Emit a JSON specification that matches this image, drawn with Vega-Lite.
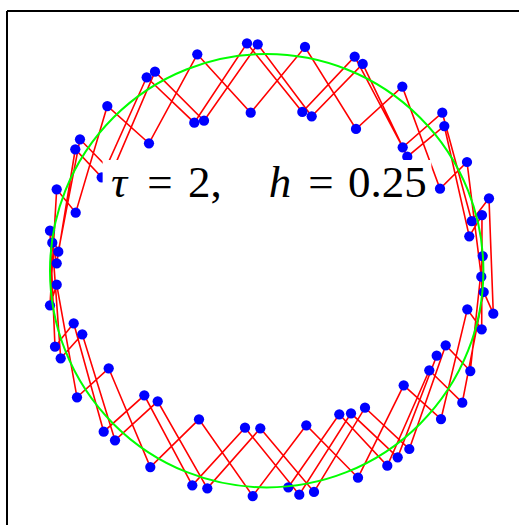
{
  "$schema": "https://vega.github.io/schema/vega-lite/v6.json",
  "width": 512,
  "height": 514,
  "padding": {"left": 7, "top": 11, "right": 0, "bottom": 0},
  "autosize": {"type": "none"},
  "background": "white",
  "config": {"view": {"stroke": null}},
  "datasets": {
    "traj": [
      {"i": 0, "x": 0.7845, "y": -0.3923},
      {"i": 1, "x": 0.6045, "y": -0.8611},
      {"i": 2, "x": 0.3890, "y": -0.6581},
      {"i": 3, "x": 0.1504, "y": -1.0337},
      {"i": 4, "x": -0.1001, "y": -0.7245},
      {"i": 5, "x": -0.3433, "y": -0.9903},
      {"i": 6, "x": -0.5648, "y": -0.5750},
      {"i": 7, "x": -0.7522, "y": -0.7430},
      {"i": 8, "x": -0.8906, "y": -0.2427},
      {"i": 9, "x": -0.9769, "y": -0.3507},
      {"i": 10, "x": -1.0000, "y": 0.1846},
      {"i": 11, "x": -0.9617, "y": 0.0877},
      {"i": 12, "x": -0.8616, "y": 0.6064},
      {"i": 13, "x": -0.7139, "y": 0.4555},
      {"i": 14, "x": -0.5155, "y": 0.9183},
      {"i": 15, "x": -0.2893, "y": 0.6922},
      {"i": 16, "x": -0.0415, "y": 1.0448},
      {"i": 17, "x": 0.2077, "y": 0.7125},
      {"i": 18, "x": 0.4430, "y": 0.9539},
      {"i": 19, "x": 0.6488, "y": 0.5261},
      {"i": 20, "x": 0.8196, "y": 0.6677},
      {"i": 21, "x": 0.9349, "y": 0.1587},
      {"i": 22, "x": 0.9935, "y": 0.2570},
      {"i": 23, "x": 0.9922, "y": -0.2704},
      {"i": 24, "x": 0.9257, "y": -0.1781},
      {"i": 25, "x": 0.8043, "y": -0.6844},
      {"i": 26, "x": 0.6322, "y": -0.5288},
      {"i": 27, "x": 0.4213, "y": -0.9552},
      {"i": 28, "x": 0.1827, "y": -0.7134},
      {"i": 29, "x": -0.0646, "y": -1.0397},
      {"i": 30, "x": -0.3124, "y": -0.6858},
      {"i": 31, "x": -0.5371, "y": -0.9059},
      {"i": 32, "x": -0.7291, "y": -0.4504},
      {"i": 33, "x": -0.8754, "y": -0.5842},
      {"i": 34, "x": -0.9691, "y": -0.0646},
      {"i": 35, "x": -1.0000, "y": -0.1597},
      {"i": 36, "x": -0.9691, "y": 0.3756},
      {"i": 37, "x": -0.8814, "y": 0.2677},
      {"i": 38, "x": -0.7356, "y": 0.7600},
      {"i": 39, "x": -0.5432, "y": 0.5879},
      {"i": 40, "x": -0.3203, "y": 0.9986},
      {"i": 41, "x": -0.0738, "y": 0.7291},
      {"i": 42, "x": 0.1767, "y": 1.0323},
      {"i": 43, "x": 0.4121, "y": 0.6539},
      {"i": 44, "x": 0.6258, "y": 0.8491},
      {"i": 45, "x": 0.7997, "y": 0.3784},
      {"i": 46, "x": 0.9243, "y": 0.5016},
      {"i": 47, "x": 0.9903, "y": -0.0277},
      {"i": 48, "x": 0.9968, "y": 0.0678},
      {"i": 49, "x": 0.9395, "y": -0.4629},
      {"i": 50, "x": 0.8260, "y": -0.3443},
      {"i": 51, "x": 0.6581, "y": -0.8228},
      {"i": 52, "x": 0.4536, "y": -0.6322},
      {"i": 53, "x": 0.2183, "y": -1.0212},
      {"i": 54, "x": -0.0295, "y": -0.7273},
      {"i": 55, "x": -0.2741, "y": -1.0042},
      {"i": 56, "x": -0.5030, "y": -0.6027},
      {"i": 57, "x": -0.7000, "y": -0.7827},
      {"i": 58, "x": -0.8510, "y": -0.2935},
      {"i": 59, "x": -0.9506, "y": -0.4042},
      {"i": 60, "x": -0.9894, "y": 0.1292},
      {"i": 61, "x": -0.9691, "y": 0.0341},
      {"i": 62, "x": -0.8833, "y": 0.5602},
      {"i": 63, "x": -0.7614, "y": 0.4310},
      {"i": 64, "x": -0.5538, "y": 0.8925},
      {"i": 65, "x": -0.3341, "y": 0.6830},
      {"i": 66, "x": -0.0909, "y": 1.0494},
      {"i": 67, "x": 0.1643, "y": 0.7324},
      {"i": 68, "x": 0.4061, "y": 0.9875},
      {"i": 69, "x": 0.6276, "y": 0.5695},
      {"i": 70, "x": 0.8103, "y": 0.7291},
      {"i": 71, "x": 0.9460, "y": 0.2293},
      {"i": 72, "x": 1.0258, "y": 0.3341},
      {"i": 73, "x": 1.0457, "y": -0.1984},
      {"i": 74, "x": 1.0014, "y": -0.0983},
      {"i": 75, "x": 0.9026, "y": -0.6091},
      {"i": 76, "x": 0.7503, "y": -0.4596},
      {"i": 77, "x": 0.5565, "y": -0.8999},
      {"i": 78, "x": 0.3350, "y": -0.6627},
      {"i": 79, "x": 0.0997, "y": -0.9995}
    ]
  },
  "layer": [
    {
      "data": {"values": [{}]},
      "mark": {"type": "rule", "color": "#000000", "strokeWidth": 2},
      "encoding": {
        "x": {"datum": -1.1984, "type": "quantitative", "scale": {"domain": [-1.1984, 1.1643], "nice": false, "zero": false}, "axis": null, "title": null}
      }
    },
    {
      "data": {"values": [{}]},
      "mark": {"type": "rule", "color": "#000000", "strokeWidth": 2},
      "encoding": {
        "y": {"datum": 1.1984, "type": "quantitative", "scale": {"domain": [-1.1735, 1.1984], "nice": false, "zero": false}, "axis": null, "title": null}
      }
    },
    {
      "data": {"name": "traj"},
      "mark": {"type": "line", "color": "#ff0000", "strokeWidth": 1.6},
      "encoding": {
        "x": {"field": "x", "type": "quantitative", "scale": {"domain": [-1.1984, 1.1643], "nice": false, "zero": false}, "axis": null, "title": null},
        "y": {"field": "y", "type": "quantitative", "scale": {"domain": [-1.1735, 1.1984], "nice": false, "zero": false}, "axis": null, "title": null},
        "order": {"field": "i", "type": "quantitative"}
      }
    },
    {
      "data": {"name": "traj"},
      "mark": {"type": "point", "shape": "circle", "filled": true, "size": 105, "color": "#0000ff", "opacity": 1},
      "encoding": {
        "x": {"field": "x", "type": "quantitative", "axis": null, "title": null},
        "y": {"field": "y", "type": "quantitative", "axis": null, "title": null}
      }
    },
    {
      "data": {"values": [{}]},
      "mark": {"type": "point", "shape": "circle", "filled": false, "size": 187836, "stroke": "#00ff00", "strokeWidth": 2, "opacity": 1},
      "encoding": {
        "x": {"datum": 0, "type": "quantitative", "axis": null, "title": null},
        "y": {"datum": 0, "type": "quantitative", "axis": null, "title": null}
      }
    },
    {
      "data": {"values": [{}]},
      "mark": {"type": "rect", "fill": "#ffffff", "stroke": null},
      "encoding": {
        "x": {"datum": -0.757, "type": "quantitative", "axis": null, "title": null},
        "x2": {"datum": 0.760},
        "y": {"datum": 0.511, "type": "quantitative", "axis": null, "title": null},
        "y2": {"datum": 0.25}
      }
    },
    {
      "data": {"values": [{}]},
      "mark": {"type": "text", "text": "τ", "font": "'Liberation Serif', 'DejaVu Serif', serif", "fontSize": 45, "fontStyle": "italic", "align": "center", "baseline": "alphabetic", "color": "#000000"},
      "encoding": {"x": {"datum": -0.6816, "type": "quantitative", "axis": null, "title": null}, "y": {"datum": 0.3401, "type": "quantitative", "axis": null, "title": null}}
    },
    {
      "data": {"values": [{}]},
      "mark": {"type": "text", "text": "=", "font": "'Liberation Serif', 'DejaVu Serif', serif", "fontSize": 45, "align": "center", "baseline": "alphabetic", "color": "#000000"},
      "encoding": {"x": {"datum": -0.4924, "type": "quantitative", "axis": null, "title": null}, "y": {"datum": 0.3401, "type": "quantitative", "axis": null, "title": null}}
    },
    {
      "data": {"values": [{}]},
      "mark": {"type": "text", "text": "2,", "font": "'Liberation Serif', 'DejaVu Serif', serif", "fontSize": 45, "align": "left", "baseline": "alphabetic", "color": "#000000"},
      "encoding": {"x": {"datum": -0.3633, "type": "quantitative", "axis": null, "title": null}, "y": {"datum": 0.3401, "type": "quantitative", "axis": null, "title": null}}
    },
    {
      "data": {"values": [{}]},
      "mark": {"type": "text", "text": "h", "font": "'Liberation Serif', 'DejaVu Serif', serif", "fontSize": 45, "fontStyle": "italic", "align": "center", "baseline": "alphabetic", "color": "#000000"},
      "encoding": {"x": {"datum": 0.0614, "type": "quantitative", "axis": null, "title": null}, "y": {"datum": 0.3401, "type": "quantitative", "axis": null, "title": null}}
    },
    {
      "data": {"values": [{}]},
      "mark": {"type": "text", "text": "=", "font": "'Liberation Serif', 'DejaVu Serif', serif", "fontSize": 45, "align": "center", "baseline": "alphabetic", "color": "#000000"},
      "encoding": {"x": {"datum": 0.2506, "type": "quantitative", "axis": null, "title": null}, "y": {"datum": 0.3401, "type": "quantitative", "axis": null, "title": null}}
    },
    {
      "data": {"values": [{}]},
      "mark": {"type": "text", "text": "0.25", "font": "'Liberation Serif', 'DejaVu Serif', serif", "fontSize": 45, "align": "center", "baseline": "alphabetic", "color": "#000000"},
      "encoding": {"x": {"datum": 0.5574, "type": "quantitative", "axis": null, "title": null}, "y": {"datum": 0.3401, "type": "quantitative", "axis": null, "title": null}}
    }
  ]
}
